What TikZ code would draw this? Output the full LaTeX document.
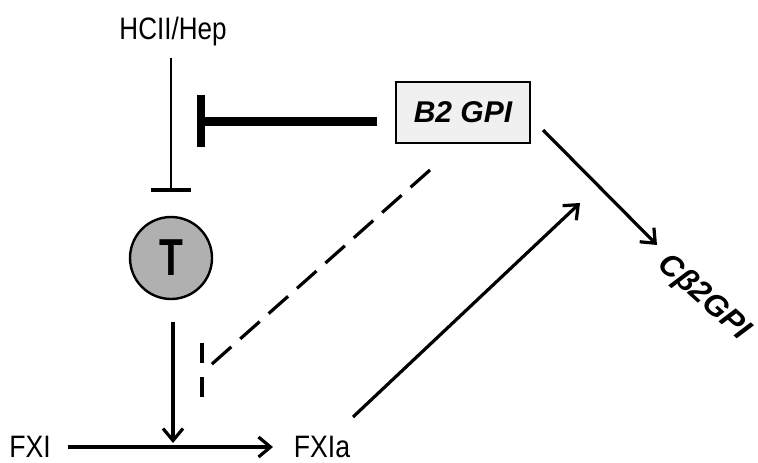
\documentclass[tikz,border=0pt]{standalone}
\usepackage{fontspec}
\setmainfont{Liberation Sans}
\usetikzlibrary{arrows.meta}
\begin{document}
\begin{tikzpicture}[x=1pt,y=-1pt,
  lbl/.style={inner sep=0pt, font=\fontsize{31}{32}\selectfont},
  arr/.style={line width=3.2pt, -{Straight Barb[length=12pt,width=20pt,line width=3.2pt]}},
  inh/.style={line width=2.4pt},
  dsh/.style={line width=3.2pt, dash pattern=on 26pt off 12pt}
]
\useasboundingbox (0,0) rectangle (758,463);
% nodes
\node[lbl] (hcii) at (173,31) {\scalebox{0.84}[1]{HCII/Hep}};
\node[circle, draw, line width=2.4pt, fill=gray!62, minimum size=82pt, inner sep=0pt,
      font=\bfseries\fontsize{52}{54}\selectfont] (T) at (171,258) {\scalebox{0.75}[1]{T}};
\node[lbl] (fxi) at (30,447) {\scalebox{0.86}[1]{FXI}};
\node[lbl] (fxia) at (322,447) {\scalebox{0.86}[1]{FXIa}};
\node[draw, line width=1.6pt, fill=gray!12, minimum width=134pt, minimum height=61pt, inner sep=0pt,
      font=\bfseries\itshape\fontsize{30}{31}\selectfont] (b2) at (463,112.5) {B2 GPI};
\node[inner sep=0pt, rotate=-42, anchor=west, font=\bfseries\itshape\fontsize{31}{32}\selectfont] (cb) at (662,260) {Cβ2GPI};
% coordinates
\coordinate (h1) at (171,58);
\coordinate (h2) at (171,190);
\coordinate (h2l) at (151,190);
\coordinate (h2r) at (191,190);
\coordinate (t1) at (173,322);
\coordinate (t2) at (173,443);
\coordinate (a1) at (68,447);
\coordinate (a2) at (273,447);
\coordinate (f1) at (353,417);
\coordinate (f2) at (580,203);
\coordinate (b1) at (377,121);
\coordinate (bi) at (203,121);
\coordinate (bt) at (201,95);
\coordinate (bb) at (201,147);
\coordinate (c1) at (543,130);
\coordinate (c2) at (657,245);
\coordinate (d1) at (430,170);
\coordinate (d2) at (203,372);
\coordinate (dv1) at (202,343);
\coordinate (dv2) at (202,397);
% connectors
\draw[inh] (h1) -- (h2);
\draw[line width=3.2pt] (h2l) -- (h2r);
\draw[arr] (t1) -- (t2);
\draw[arr] (a1) -- (a2);
\draw[arr] (f1) -- (f2);
\draw[arr] (c1) -- (c2);
\draw[line width=9pt] (b1) -- (bi);
\draw[line width=8pt] (bt) -- (bb);
\draw[dsh] (d1) -- (d2);
\draw[line width=3.2pt, dash pattern=on 20pt off 14pt] (dv1) -- (dv2);
\end{tikzpicture}
\end{document}
